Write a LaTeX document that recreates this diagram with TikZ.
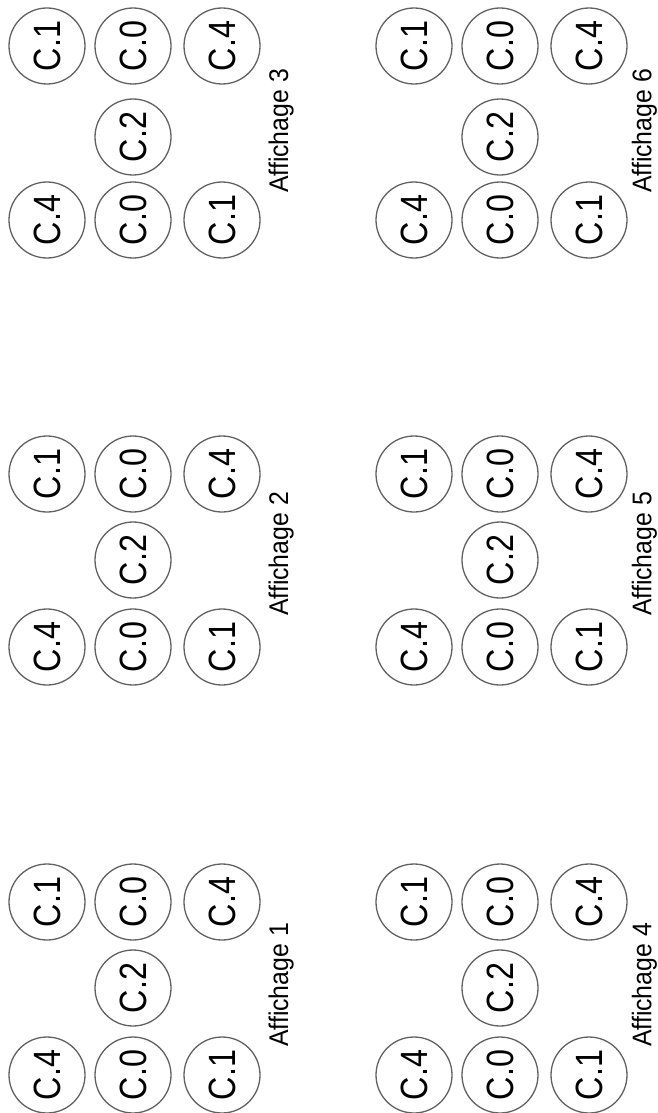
\documentclass[tikz,border=0pt]{standalone}
\usepackage{fontspec}
\setmainfont{Liberation Sans}
\begin{document}
\begin{tikzpicture}[x=1pt,y=-1pt,
  disc/.style={circle,draw=black!62,line width=1.3pt,minimum size=76pt,inner sep=0pt,rotate=90,
    font=\fontsize{38}{38}\selectfont},
  caption/.style={rotate=90,inner sep=0pt,anchor=base,font=\fontsize{27}{27}\selectfont}]
\useasboundingbox[fill=white] (0,0) rectangle (658,1113);
\foreach \n/\ox/\ra/\rb/\rc/\ly in {3/0/46/137/220/131, 6/367/46/137/220/131,
    2/0/474/560/647/554, 5/367/474/560/647/554,
    1/0/902/988/1075/985, 4/367/902/988/1075/985}{
  \node[disc] (g\n a) at (47+\ox,\ra) {\scalebox{0.85}[1]{C.1}};
  \node[disc] (g\n b) at (133+\ox,\ra) {\scalebox{0.85}[1]{C.0}};
  \node[disc] (g\n c) at (222+\ox,\ra) {\scalebox{0.85}[1]{C.4}};
  \node[disc] (g\n d) at (133+\ox,\rb) {\scalebox{0.85}[1]{C.2}};
  \node[disc] (g\n e) at (47+\ox,\rc) {\scalebox{0.85}[1]{C.4}};
  \node[disc] (g\n f) at (133+\ox,\rc) {\scalebox{0.85}[1]{C.0}};
  \node[disc] (g\n g) at (222+\ox,\rc) {\scalebox{0.85}[1]{C.1}};
  \node[caption] (lab\n) at (288+0.99*\ox,\ly) {\scalebox{0.92}[1]{Affichage \n}};
}
\end{tikzpicture}
\end{document}
